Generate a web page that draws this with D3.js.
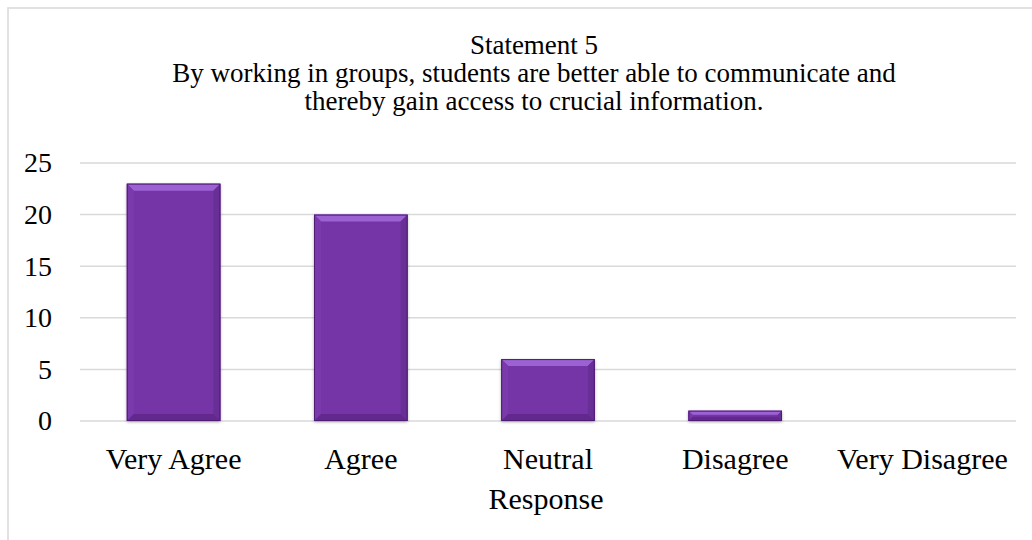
<!DOCTYPE html>
<html>
<head>
<meta charset="utf-8">
<script src="https://cdn.jsdelivr.net/npm/d3@7"></script>
<style>
  body { margin: 0; background: #fff; }
</style>
</head>
<body>
<div id="chart"></div>
<script>
// data
var categories = ["Very Agree", "Agree", "Neutral", "Disagree", "Very Disagree"];
var counts = [23, 20, 6, 1, 0];
var yTicks = [0, 5, 10, 15, 20, 25];
var titleLines = [
    "Statement 5",
    "By working in groups, students are better able to communicate and",
    "thereby gain access to crucial information."
];
var xTitle = "Response";

var W = 1032, H = 540;
var plot = { left: 80, right: 1016, top: 163, bottom: 421 };
var serif = "'Liberation Serif', 'Times New Roman', serif";

var svg = d3.select("#chart").append("svg")
    .attr("width", W)
    .attr("height", H);

var defs = svg.append("defs");
var f = defs.append("filter").attr("id", "shadow")
    .attr("x", "-20%").attr("y", "-20%").attr("width", "140%").attr("height", "140%");
f.append("feDropShadow")
    .attr("dx", 0).attr("dy", 1)
    .attr("stdDeviation", 1.6)
    .attr("flood-color", "#000")
    .attr("flood-opacity", 0.35);

// chart border (only left and top visible)
svg.append("rect")
    .attr("x", 8).attr("y", 8)
    .attr("width", W + 20).attr("height", H + 20)
    .attr("fill", "#fff")
    .attr("stroke", "#d9d9d9")
    .attr("stroke-width", 1.5);

var x = d3.scaleBand()
    .domain(categories)
    .range([plot.left, plot.right])
    .paddingInner(0.5)
    .paddingOuter(0.25);

var y = d3.scaleLinear()
    .domain([0, 25])
    .range([plot.bottom, plot.top]);

// gridlines
svg.append("g")
    .selectAll("line")
    .data(yTicks)
    .enter().append("line")
    .attr("x1", plot.left)
    .attr("x2", plot.right)
    .attr("y1", function(d) { return y(d); })
    .attr("y2", function(d) { return y(d); })
    .attr("stroke", "#d9d9d9")
    .attr("stroke-width", 1.5);

// y axis labels
var yAxis = d3.axisLeft(y).tickValues(yTicks).tickSize(0).tickPadding(28);
var gy = svg.append("g")
    .attr("transform", "translate(" + plot.left + ",0)")
    .call(yAxis);
gy.select(".domain").remove();
gy.selectAll("text")
    .style("font-family", serif)
    .style("font-size", "28px")
    .style("fill", "#000");

// x axis labels
var xAxis = d3.axisBottom(x).tickSize(0).tickPadding(27);
var gx = svg.append("g")
    .attr("transform", "translate(0," + plot.bottom + ")")
    .call(xAxis);
gx.select(".domain").remove();
gx.selectAll("text")
    .style("font-family", serif)
    .style("font-size", "30px")
    .style("fill", "#000");

// bars with bevel
var bars = svg.append("g").selectAll("g.bar")
    .data(categories.map(function(c, i) { return { cat: c, val: counts[i] }; }))
    .enter().append("g")
    .attr("class", "bar")
    .filter(function(d) { return d.val > 0; });

bars.each(function(d) {
    var g = d3.select(this);
    var x0 = x(d.cat), x1 = x0 + x.bandwidth();
    var y0 = y(d.val), y1 = y(0);
    var b = Math.min(7, (y1 - y0) / 2.5);

    g.append("rect")
        .attr("x", x0).attr("y", y0)
        .attr("width", x1 - x0).attr("height", y1 - y0)
        .attr("fill", "#7535a6")
        .attr("filter", "url(#shadow)");

    var pts = function(a) { return a.map(function(p) { return p.join(","); }).join(" "); };
    // top
    g.append("polygon")
        .attr("points", pts([[x0, y0], [x1, y0], [x1 - b, y0 + b], [x0 + b, y0 + b]]))
        .attr("fill", "#9c62d4");
    // left
    g.append("polygon")
        .attr("points", pts([[x0, y0], [x0 + b, y0 + b], [x0 + b, y1 - b], [x0, y1]]))
        .attr("fill", "#7a3aac");
    // right
    g.append("polygon")
        .attr("points", pts([[x1, y0], [x1, y1], [x1 - b, y1 - b], [x1 - b, y0 + b]]))
        .attr("fill", "#682f96");
    // bottom
    g.append("polygon")
        .attr("points", pts([[x0, y1], [x1, y1], [x1 - b, y1 - b], [x0 + b, y1 - b]]))
        .attr("fill", "#62288e");
    // edge
    g.append("rect")
        .attr("x", x0 + 0.5).attr("y", y0 + 0.5)
        .attr("width", x1 - x0 - 1).attr("height", y1 - y0 - 1)
        .attr("fill", "none")
        .attr("stroke", "#4e1c72")
        .attr("stroke-width", 1);
});

// title
svg.append("g").selectAll("text")
    .data(titleLines)
    .enter().append("text")
    .attr("x", 534)
    .attr("y", function(d, i) { return 54 + i * 28; })
    .attr("text-anchor", "middle")
    .style("font-family", serif)
    .style("font-size", "27px")
    .style("fill", "#000")
    .text(function(d) { return d; });

// x axis title
svg.append("text")
    .attr("x", 546)
    .attr("y", 509)
    .attr("text-anchor", "middle")
    .style("font-family", serif)
    .style("font-size", "30px")
    .style("fill", "#000")
    .text(xTitle);
</script>
</body>
</html>
